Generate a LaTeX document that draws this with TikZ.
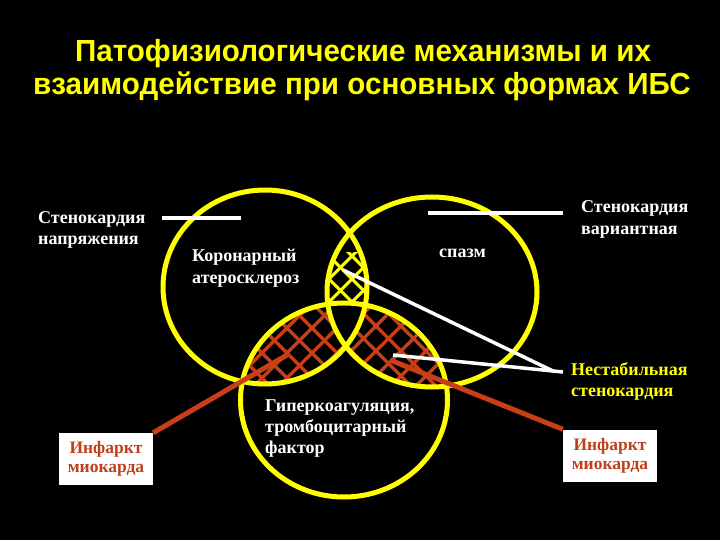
\documentclass[tikz,border=0pt]{standalone}
\usepackage{fontspec}
\setmainfont{Liberation Serif}
\newfontfamily\titlefont[FakeStretch=0.97]{Liberation Sans}
\definecolor{ibsyellow}{RGB}{255,255,0}
\definecolor{ibsred}{RGB}{200,62,22}
\definecolor{boxred}{RGB}{192,64,28}
\tikzset{
  ring/.style={draw=ibsyellow, line width=5pt},
  pointer/.style={draw=white, line width=3.5pt},
  infarct line/.style={draw=ibsred, line width=5pt},
  red hatch/.style={draw=ibsred, line width=3.4pt},
  yellow hatch/.style={draw=ibsyellow, line width=3pt},
  title text/.style={text=ibsyellow, font=\titlefont\bfseries\fontsize{30.5}{33}\selectfont, anchor=base, inner sep=0pt},
  form text/.style={text=white, font=\bfseries\fontsize{18}{21}\selectfont, align=left, anchor=base west, inner sep=0pt},
  infarct box/.style={fill=white, text=boxred, font=\bfseries\fontsize{17.5}{19}\selectfont, align=center,
    minimum width=94pt, minimum height=52pt, inner sep=0pt}
}

\begin{document}
\begin{tikzpicture}[x=1pt, y=-1pt]
    \fill[black] (0,0) rectangle (720,540);
    \useasboundingbox (0,0) rectangle (720,540);

    \node[title text] (Title 1) at (363,62) {Патофизиологические механизмы и их};
    \node[title text] (Title 2) at (362,95) {взаимодействие при основных формах ИБС};

    \coordinate (Coronary) at (265,287);
    \coordinate (Spasm) at (432,292);
    \coordinate (Hyper) at (344,400);

    % red crosshatch: coronary and hyper, not spasm
    \begin{scope}[even odd rule]
        \clip (Coronary) ellipse [x radius=102, y radius=97];
        \clip (Hyper) ellipse [x radius=103.5, y radius=97];
        \clip (0,0) rectangle (720,540) (Spasm) ellipse [x radius=105, y radius=95];
        \foreach \d in {-300,-275,...,800} {
            \draw[red hatch] (\d,540) -- ++(540,-540);
            \draw[red hatch] (\d+9,0) -- ++(540,540);
        }
    \end{scope}
    % red crosshatch: spasm and hyper, not coronary
    \begin{scope}[even odd rule]
        \clip (Spasm) ellipse [x radius=105, y radius=95];
        \clip (Hyper) ellipse [x radius=103.5, y radius=97];
        \clip (0,0) rectangle (720,540) (Coronary) ellipse [x radius=102, y radius=97];
        \foreach \d in {-300,-275,...,800} {
            \draw[red hatch] (\d+12,540) -- ++(540,-540);
            \draw[red hatch] (\d,0) -- ++(540,540);
        }
    \end{scope}
    % yellow crosshatch: coronary and spasm
    \begin{scope}[even odd rule]
        \clip (Coronary) ellipse [x radius=102, y radius=97];
        \clip (Spasm) ellipse [x radius=105, y radius=95];
        \clip (300,252) rectangle (400,400);
        \clip (0,0) rectangle (720,540) (Hyper) ellipse [x radius=103.5, y radius=97];
        \foreach \d in {-300,-277,...,800} {
            \draw[yellow hatch] (\d,540) -- ++(540,-540);
            \draw[yellow hatch] (\d+5,0) -- ++(540,540);
        }
    \end{scope}

    \draw[ring] (Coronary) ellipse [x radius=102, y radius=97];
    \draw[ring] (Spasm) ellipse [x radius=105, y radius=95];
    \draw[ring] (Hyper) ellipse [x radius=103.5, y radius=97];

    % base anchor = last line
    \node[form text] (Coronary text) at (192,283) {Коронарный\\атеросклероз};
    \node[form text] (Spasm text) at (439,258) {спазм};
    \node[form text] (Hyper text) at (265,453) {Гиперкоагуляция,\\тромбоцитарный\\фактор};

    \node[form text] (Effort) at (38,244) {Стенокардия\\напряжения};
    \node[form text] (Variant) at (581,234) {Стенокардия\\вариантная};
    \node[form text, text=ibsyellow] (Unstable) at (571,396) {Нестабильная\\стенокардия};

    \coordinate (Effort a) at (162,218);
    \coordinate (Effort b) at (241,218);
    \coordinate (Variant a) at (428,213);
    \coordinate (Variant b) at (563,213);
    \draw[pointer] (Effort a) -- (Effort b);
    \draw[pointer] (Variant a) -- (Variant b);

    \coordinate (Lens mark) at (343,270);
    \coordinate (Triple mark) at (393,355);
    \coordinate (Unstable a) at (553,371);
    \coordinate (Unstable b) at (563,372);
    \draw[pointer] (Lens mark) -- (Unstable a);
    \draw[pointer] (Triple mark) -- (Unstable b);

    \node[infarct box] (Infarct L) at (106,459) {Инфаркт\\миокарда};
    \node[infarct box] (Infarct R) at (610,455.5) {Инфаркт\\миокарда};
    \coordinate (Infarct L end) at (287,355);
    \coordinate (Infarct R end) at (390,360);
    \draw[infarct line] (Infarct L.north east) -- (Infarct L end);
    \draw[infarct line] (Infarct R end) -- (Infarct R.north west);
\end{tikzpicture}
\end{document}
